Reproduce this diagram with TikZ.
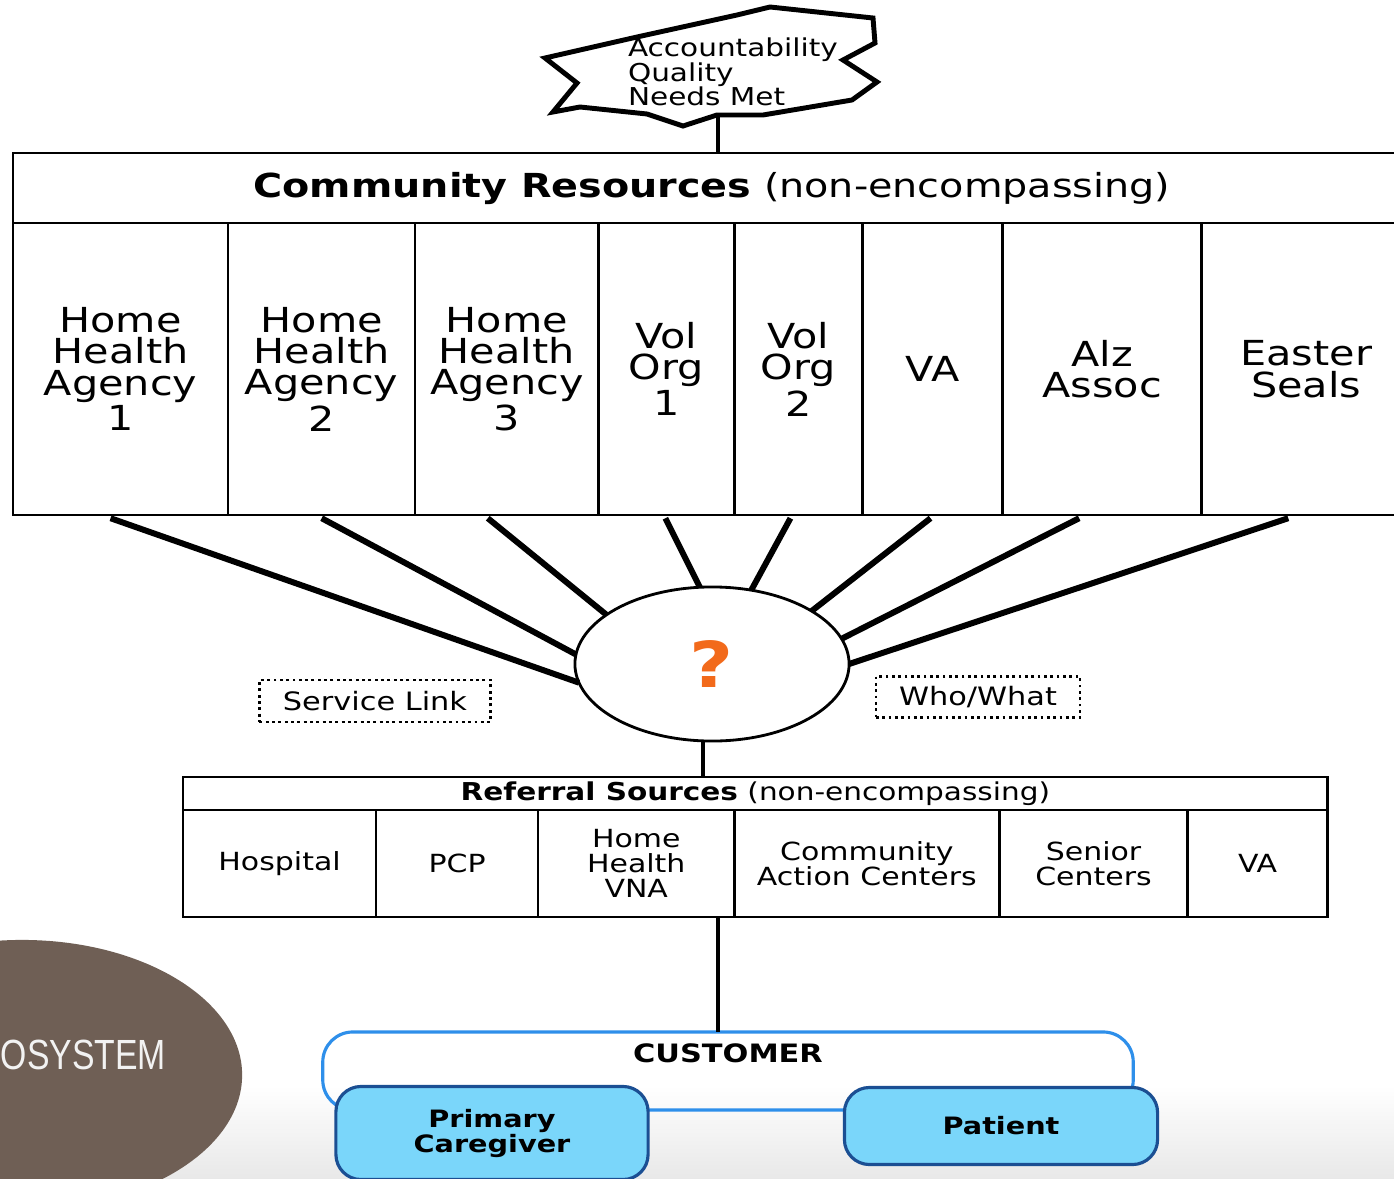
\documentclass[tikz,border=0pt]{standalone}
\usepackage{fontspec}
\setmainfont{DejaVu Sans}[FakeStretch=1.2]
\newfontfamily\ecofont{Liberation Sans}[FakeStretch=0.8]
\usetikzlibrary{positioning,shapes.geometric}
\definecolor{qorange}{HTML}{F26A1B}
\definecolor{custblue}{HTML}{2E8FEA}
\definecolor{boxblue}{HTML}{7AD6FA}
\definecolor{edgeblue}{HTML}{1B4F93}
\definecolor{ecobrown}{HTML}{6F5F55}
\tikzset{>=latex}

\begin{document}
\begin{tikzpicture}[x=0.01cm, y=-0.01cm,
    every node/.style={align=center, inner sep=0pt, outer sep=0pt},
    cell/.style={draw, line width=0.7pt, rectangle, minimum height=2.92cm, font=\fontsize{9.8}{8.9}\selectfont},
    refcell/.style={draw, line width=0.7pt, rectangle, minimum height=1.07cm, font=\fontsize{7.1}{7.1}\selectfont},
    spoke/.style={line width=1.7pt},
    bar/.style={line width=1.4pt},
    tag/.style={draw, densely dotted, line width=0.8pt, rectangle, font=\fontsize{7.2}{7.2}\selectfont},
    person/.style={draw=edgeblue, fill=boxblue, line width=0.9pt, rounded corners=0.25cm, minimum width=3.12cm, font=\bfseries\fontsize{6.8}{7.1}\selectfont}]
    \useasboundingbox (0,0) rectangle (1394,1179);
    \clip (0,0) rectangle (1394,1179);

    % Background
    \fill[top color=white, bottom color=black!9] (0,1085) rectangle (1394,1179);
    \fill[ecobrown] (22,1075) ellipse [x radius=2.2cm, y radius=1.35cm];
    \node[anchor=base west, text=white!95!black, font=\ecofont\fontsize{12}{12}\selectfont] (Eco) at (1,1069) {OSYSTEM};

    % Goal
    \draw[line width=1.4pt] (545,58) -- (637,37) -- (737,15) -- (770,7) -- (873,18) -- (875,43) -- (843,60) -- (877,82) -- (852,100) -- (763,115) -- (717,115) -- (683,126) -- (647,114) -- (580,107) -- (553,112) -- (577,83) -- cycle;
    \node[anchor=west, align=left, font=\fontsize{7}{7}\selectfont] (Goal) at (628,72) {Accountability\\Quality\\Needs Met};
    \coordinate (Tip) at (718,117);

    % Community resources
    \node[draw, line width=0.7pt, minimum width=13.97cm, minimum height=0.70cm, anchor=north west, font=\fontsize{9.4}{9.4}\selectfont] (Comm) at (13,153) {\textbf{Community Resources} (non-encompassing)};
    \node[cell, minimum width=2.15cm, anchor=north west] (HHA1) at (Comm.south west) {Home\\Health\\Agency\\1};
    \node[cell, minimum width=1.87cm, right=0pt of HHA1] (HHA2) {Home\\Health\\Agency\\2};
    \node[cell, minimum width=1.83cm, right=0pt of HHA2] (HHA3) {Home\\Health\\Agency\\3};
    \node[cell, minimum width=1.36cm, right=0pt of HHA3] (Vol1) {Vol\\Org\\1};
    \node[cell, minimum width=1.28cm, right=0pt of Vol1] (Vol2) {Vol\\Org\\2};
    \node[cell, minimum width=1.40cm, right=0pt of Vol2] (VA) {VA};
    \node[cell, minimum width=1.99cm, right=0pt of VA] (Alz) {Alz\\Assoc};
    \node[cell, minimum width=2.09cm, right=0pt of Alz] (Seals) {Easter\\Seals};

    % Hub and tags
    \node[draw, ellipse, line width=0.8pt, minimum width=2.74cm, minimum height=1.54cm, text=qorange, font=\bfseries\fontsize{18}{18}\selectfont] (Hub) at (712,664) {?};
    \node[tag, minimum width=2.31cm, minimum height=0.42cm] (Link) at (375,701) {Service Link};
    \node[tag, minimum width=2.04cm, minimum height=0.41cm] (Who) at (978,697) {Who/What};

    % Referral sources
    \node[draw, line width=0.7pt, minimum width=11.44cm, minimum height=0.33cm, anchor=north west, font=\fontsize{7}{7}\selectfont] (Ref) at (183,777) {\textbf{Referral Sources} (non-encompassing)};
    \node[refcell, minimum width=1.93cm, anchor=north west] (Hosp) at (Ref.south west) {Hospital};
    \node[refcell, minimum width=1.62cm, right=0pt of Hosp] (PCP) {PCP};
    \node[refcell, minimum width=1.96cm, right=0pt of PCP] (VNA) {Home\\Health\\VNA};
    \node[refcell, minimum width=2.65cm, right=0pt of VNA] (CAC) {Community\\Action Centers};
    \node[refcell, minimum width=1.88cm, right=0pt of CAC] (Senior) {Senior\\Centers};
    \node[refcell, minimum width=1.40cm, right=0pt of Senior] (RefVA) {VA};

    % Customer
    \node[draw=custblue, line width=0.9pt, rounded corners=0.3cm, minimum width=8.10cm, minimum height=0.78cm] (Cust) at (728,1071) {};
    \node[font=\bfseries\fontsize{7.2}{7.2}\selectfont, below=0.12cm of Cust.north] (CustLbl) {CUSTOMER};
    \node[person, minimum height=0.93cm] (Carer) at (492,1133) {Primary\\Caregiver};
    \node[person, minimum width=3.13cm, minimum height=0.77cm] (Patient) at (1001,1126) {Patient};

    % Lines
    \draw[bar] (Tip) -- (Tip |- Comm.north);
    \foreach \c/\a/\dx in {HHA1/188/-10, HHA2/176/0, HHA3/155/-19, Vol1/99/-1, Vol2/62/-8, VA/28/-2, Alz/11.5/-23, Seals/0/-18}
        \draw[spoke] ([xshift=\dx*0.01cm, yshift=-0.03cm]\c.south) -- (Hub.\a);
    \draw[bar] ([xshift=-0.09cm]Hub.south) -- ([xshift=-0.09cm]Hub.south |- Ref.north);
    \draw[bar] ([xshift=-0.1cm]Cust.north) -- ([xshift=-0.1cm]Cust.north |- Hosp.south);
\end{tikzpicture}
\end{document}
